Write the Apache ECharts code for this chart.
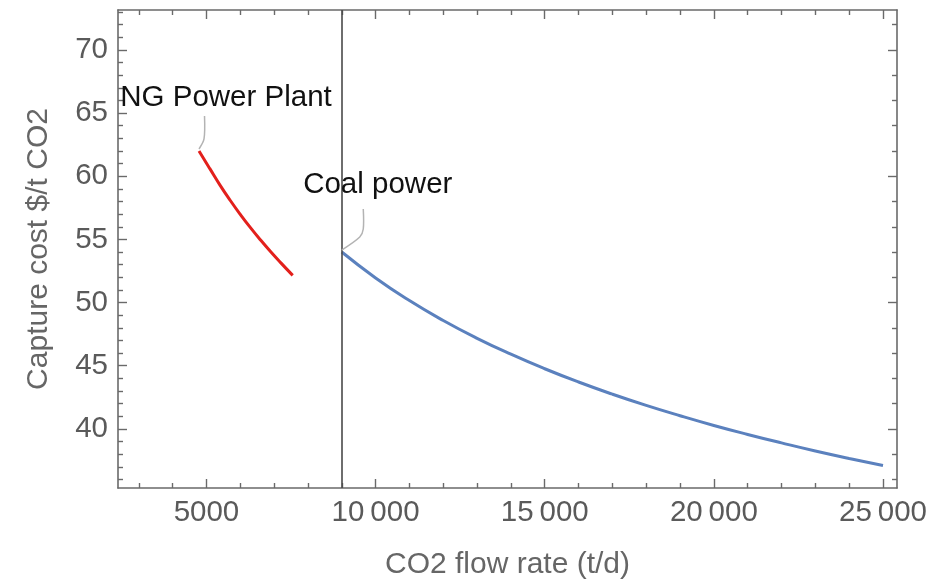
<!DOCTYPE html>
<html>
<head>
<meta charset="utf-8">
<script src="https://cdn.jsdelivr.net/npm/echarts@6/dist/echarts.min.js"></script>
<style>
html,body{margin:0;padding:0;background:#fff;}
#chart{width:940px;height:585px;}
</style>
</head>
<body>
<div id="chart"></div>
<script>
// ---- data ----
const ngFlow = [4780, 5100, 5400, 5700, 6000, 6300, 6600, 6900, 7200, 7550];
const ngCost = [62.00, 60.60, 59.30, 58.10, 56.98, 55.93, 54.95, 54.02, 53.14, 52.15];

const coalFlow = [9000, 10000, 11000, 12000, 13000, 14000, 15000, 16000, 17000,
                  18000, 19000, 20000, 21000, 22000, 23000, 24000, 25000];
const coalCost = [54.00, 51.95, 50.16, 48.58, 47.17, 45.91, 44.76, 43.71, 42.75,
                  41.86, 41.04, 40.27, 39.56, 38.89, 38.25, 37.66, 37.10];

const refLineX = [9000];
const calloutText = ['NG Power Plant', 'Coal power'];

const xMajorTicks = [5000, 10000, 15000, 20000, 25000];
const xMinorTicks = [3000, 4000, 6000, 7000, 8000, 9000, 11000, 12000, 13000, 14000,
                     16000, 17000, 18000, 19000, 21000, 22000, 23000, 24000];
const yMajorTicks = [40, 45, 50, 55, 60, 65, 70];
const yMinorTicks = [36, 37, 38, 39, 41, 42, 43, 44, 46, 47, 48, 49, 51, 52, 53, 54,
                     56, 57, 58, 59, 61, 62, 63, 64, 66, 67, 68, 69, 71, 72, 73];
const yRightMajor = [40, 50, 60, 70];
const yRightMinor = [36, 38, 42, 44, 46, 48, 52, 54, 56, 58, 62, 64, 66, 68, 72];

// ---- styling ----
const X_MIN = 2385, X_MAX = 25414, Y_MIN = 35.32, Y_MAX = 73.16;
const FRAME = '#6a6a6a';
const FONT = 'Liberation Sans, Arial, Helvetica, sans-serif';
const TICK_FS = 29.5, TITLE_FS = 30, NOTE_FS = 29.5;
const calloutGeom = [
  { path: [[0, -2], [5, -12], [5.5, -35]], text: [27, -53] },
  { path: [[0, -2], [18, -15], [21.5, -23], [21.5, -43]], text: [36, -67] }
];

function fmt(v) {
  const s = String(v);
  return s.length > 4 ? s.slice(0, s.length - 3) + '\u2009' + s.slice(-3) : s;
}

function xAxisDef(pos, ticks, len, withLabel, withLine) {
  return {
    type: 'value', position: pos, min: X_MIN, max: X_MAX,
    axisLine: { show: withLine, onZero: false, lineStyle: { color: FRAME, width: 1.6 } },
    axisTick: { show: true, inside: true, length: len, customValues: ticks,
                lineStyle: { color: FRAME, width: 1.4 } },
    axisLabel: withLabel ? { show: true, customValues: xMajorTicks, formatter: fmt,
                fontSize: TICK_FS, fontFamily: FONT, color: '#5a5a5a', margin: 10 } : { show: false },
    splitLine: { show: false },
    name: withLabel ? 'CO2 flow rate (t/d)' : '',
    nameLocation: 'middle', nameGap: 62,
    nameTextStyle: { fontSize: TITLE_FS, fontFamily: FONT, color: '#666' }
  };
}
function yAxisDef(pos, ticks, len, withLabel, withLine) {
  return {
    type: 'value', position: pos, min: Y_MIN, max: Y_MAX,
    axisLine: { show: withLine, onZero: false, lineStyle: { color: FRAME, width: 1.6 } },
    axisTick: { show: true, inside: true, length: len, customValues: ticks,
                lineStyle: { color: FRAME, width: 1.4 } },
    axisLabel: withLabel ? { show: true, customValues: yMajorTicks,
                fontSize: TICK_FS, fontFamily: FONT, color: '#5a5a5a', margin: 10 } : { show: false },
    splitLine: { show: false },
    name: withLabel ? 'Capture cost $/t CO2' : '',
    nameLocation: 'middle', nameGap: 64, nameRotate: 90,
    nameTextStyle: { fontSize: TITLE_FS, fontFamily: FONT, color: '#666' }
  };
}

const chart = echarts.init(document.getElementById('chart'), null, { renderer: 'canvas' });
chart.setOption({
  animation: false,
  backgroundColor: '#ffffff',
  grid: { left: 118, right: 43, top: 10, bottom: 96, containLabel: false },
  xAxis: [
    xAxisDef('bottom', xMajorTicks, 9, true, true),
    xAxisDef('bottom', xMinorTicks, 5, false, false),
    xAxisDef('top', xMajorTicks, 9, false, true),
    xAxisDef('top', xMinorTicks, 5, false, false)
  ],
  yAxis: [
    yAxisDef('left', yMajorTicks, 9, true, true),
    yAxisDef('left', yMinorTicks, 5, false, false),
    yAxisDef('right', yRightMajor, 9, false, true),
    yAxisDef('right', yRightMinor, 5, false, false)
  ],
  series: [
    {
      type: 'line', name: 'NG Power Plant', xAxisIndex: 0, yAxisIndex: 0,
      data: ngFlow.map((x, i) => [x, ngCost[i]]),
      smooth: true, showSymbol: false, symbol: 'none',
      lineStyle: { color: '#e3201c', width: 3 }
    },
    {
      type: 'line', name: 'Coal power', xAxisIndex: 0, yAxisIndex: 0,
      data: coalFlow.map((x, i) => [x, coalCost[i]]),
      smooth: true, showSymbol: false, symbol: 'none',
      lineStyle: { color: '#5b81be', width: 3 },
      markLine: {
        silent: true, symbol: ['none', 'none'], label: { show: false },
        lineStyle: { color: '#4a4a4a', width: 1.6, type: 'solid' },
        data: refLineX.map(v => ({ xAxis: v }))
      }
    },
    {
      type: 'custom', xAxisIndex: 0, yAxisIndex: 0, clip: false, z: 10, silent: true,
      data: [[ngFlow[0], ngCost[0]], [coalFlow[0], coalCost[0]]],
      renderItem: function (params, api) {
        const p = api.coord([api.value(0), api.value(1)]);
        const g = calloutGeom[params.dataIndex];
        return {
          type: 'group',
          children: [
            {
              type: 'polyline',
              shape: { points: g.path.map(d => [p[0] + d[0], p[1] + d[1]]), smooth: 0.3 },
              style: { stroke: '#b3b3b3', lineWidth: 1.5, fill: null }
            },
            {
              type: 'text',
              x: p[0] + g.text[0], y: p[1] + g.text[1],
              style: {
                text: calloutText[params.dataIndex], fill: '#111',
                font: NOTE_FS + 'px ' + FONT, align: 'center', verticalAlign: 'middle'
              }
            }
          ]
        };
      }
    }
  ]
});
</script>
</body>
</html>
